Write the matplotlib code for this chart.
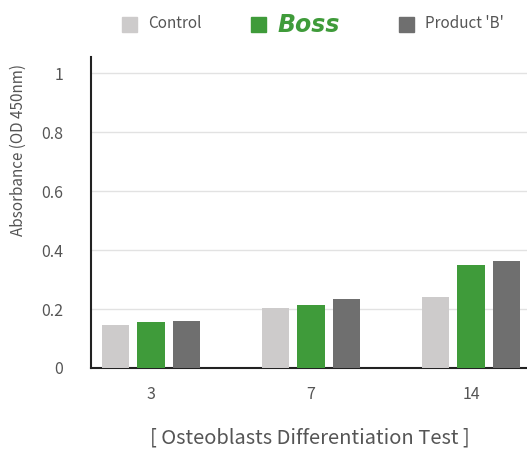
import matplotlib
matplotlib.use('Agg')
import numpy as np
from matplotlib import pyplot as plt
from matplotlib.patches import Rectangle

days = ['3', '7', '14']
control = [0.146, 0.203, 0.240]
boss = [0.156, 0.214, 0.348]
product_b = [0.158, 0.235, 0.362]
yticks = [0, 0.2, 0.4, 0.6, 0.8, 1]
ytick_labels = ['0', '0.2', '0.4', '0.6', '0.8', '1']

c_control = '#cdcbcb'
c_boss = '#3f9b3a'
c_prod = '#6f6f6f'
text_col = '#555555'

plt.rcParams['font.family'] = ['Noto Sans CJK KR', 'DejaVu Sans']

fig = plt.figure(figsize=(5.27, 4.5), dpi=100)
ax = fig.add_axes([91 / 527, 82 / 450, 436 / 527, 311 / 450])

x = np.arange(len(days))
w = 0.17
step = 0.22
ax.bar(x - step, control, w, color=c_control, zorder=3)
ax.bar(x, boss, w, color=c_boss, zorder=3)
ax.bar(x + step, product_b, w, color=c_prod, zorder=3)

ax.set_xlim(-0.375, 2.35)
ax.set_ylim(0, 1.055)
ax.set_xticks(x)
ax.set_xticklabels(days)
ax.set_yticks(yticks)
ax.set_yticklabels(ytick_labels)
ax.tick_params(length=0, labelsize=11.5, colors=text_col)
ax.tick_params(axis='y', pad=20)
ax.tick_params(axis='x', pad=13)
ax.grid(axis='y', color='#e2e2e2', linewidth=1, zorder=0)
for s in ['top', 'right']:
    ax.spines[s].set_visible(False)
for s in ['left', 'bottom']:
    ax.spines[s].set_linewidth(1.5)
    ax.spines[s].set_color('#222222')

fig.text(18 / 527, 1 - 150 / 450, 'Absorbance (OD 450nm)', rotation=90,
         ha='center', va='center', fontsize=11, color=text_col)
fig.text(310 / 527, 1 - 438 / 450, '[ Osteoblasts Differentiation Test ]',
         ha='center', va='center', fontsize=14.5, color=text_col)

# legend drawn by hand
legend = [(122, c_control, 'Control'), (251, c_boss, None), (399, c_prod, "Product 'B'")]
for px, col, lab in legend:
    fig.patches.append(Rectangle((px / 527, 1 - 32 / 450), 15 / 527, 15 / 450,
                                 transform=fig.transFigure, color=col))
    if lab:
        fig.text((px + 26) / 527, 1 - 24 / 450, lab, ha='left', va='center',
                 fontsize=11, color=text_col)
fig.text(278 / 527, 1 - 25 / 450, 'Boss', ha='left', va='center', fontsize=17,
         color=c_boss, fontweight='heavy', style='italic', family='DejaVu Sans')

fig.savefig('out.png', dpi=100)
